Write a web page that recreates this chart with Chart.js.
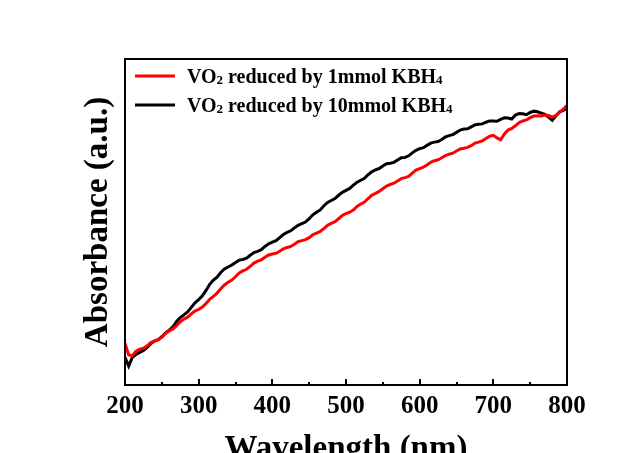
<!DOCTYPE html>
<html>
<head>
<meta charset="utf-8">
<script src="https://cdn.jsdelivr.net/npm/chart.js@4/dist/chart.umd.min.js"></script>
<style>
  body { margin: 0; background: #fff; }
</style>
</head>
<body>
<canvas id="absChart" width="643" height="453"></canvas>
<script>
// wavelength (nm), 5 nm steps, and absorbance (a.u.)
const wavelengths = [200, 205, 210, 215, 220, 225, 230, 235, 240, 245, 250, 255, 260, 265, 270, 275, 280, 285, 290, 295,
  300, 305, 310, 315, 320, 325, 330, 335, 340, 345, 350, 355, 360, 365, 370, 375, 380, 385, 390, 395,
  400, 405, 410, 415, 420, 425, 430, 435, 440, 445, 450, 455, 460, 465, 470, 475, 480, 485, 490, 495,
  500, 505, 510, 515, 520, 525, 530, 535, 540, 545, 550, 555, 560, 565, 570, 575, 580, 585, 590, 595,
  600, 605, 610, 615, 620, 625, 630, 635, 640, 645, 650, 655, 660, 665, 670, 675, 680, 685, 690, 695,
  700, 705, 710, 715, 720, 725, 730, 735, 740, 745, 750, 755, 760, 765, 770, 775, 780, 785, 790, 795, 800];

const abs1mmol = [0.128, 0.092, 0.090, 0.104, 0.110, 0.113, 0.120, 0.130, 0.135, 0.139, 0.146, 0.158, 0.166, 0.172, 0.182, 0.194, 0.202, 0.208, 0.218, 0.227,
  0.232, 0.239, 0.250, 0.263, 0.272, 0.282, 0.295, 0.307, 0.315, 0.322, 0.332, 0.344, 0.350, 0.355, 0.364, 0.374, 0.380, 0.384, 0.392, 0.399,
  0.402, 0.404, 0.410, 0.418, 0.422, 0.425, 0.432, 0.440, 0.443, 0.446, 0.452, 0.461, 0.466, 0.471, 0.480, 0.490, 0.496, 0.501, 0.510, 0.520,
  0.526, 0.530, 0.537, 0.548, 0.555, 0.561, 0.572, 0.582, 0.588, 0.594, 0.602, 0.610, 0.615, 0.619, 0.626, 0.633, 0.636, 0.640, 0.650, 0.659,
  0.664, 0.668, 0.675, 0.683, 0.688, 0.691, 0.697, 0.704, 0.708, 0.711, 0.718, 0.724, 0.726, 0.729, 0.734, 0.742, 0.745, 0.749, 0.756, 0.763,
  0.766, 0.758, 0.752, 0.770, 0.782, 0.787, 0.795, 0.805, 0.810, 0.813, 0.820, 0.825, 0.826, 0.825, 0.828, 0.827, 0.822, 0.826, 0.836, 0.846, 0.858];

const abs10mmol = [0.085, 0.058, 0.085, 0.094, 0.100, 0.106, 0.115, 0.127, 0.135, 0.139, 0.148, 0.160, 0.168, 0.178, 0.195, 0.207, 0.215, 0.224, 0.238, 0.252,
  0.262, 0.274, 0.290, 0.309, 0.322, 0.331, 0.345, 0.356, 0.362, 0.368, 0.376, 0.383, 0.385, 0.389, 0.398, 0.406, 0.410, 0.415, 0.425, 0.433,
  0.438, 0.443, 0.452, 0.462, 0.468, 0.473, 0.482, 0.490, 0.495, 0.500, 0.510, 0.522, 0.530, 0.537, 0.550, 0.560, 0.566, 0.572, 0.582, 0.591,
  0.597, 0.603, 0.613, 0.622, 0.628, 0.634, 0.645, 0.654, 0.660, 0.664, 0.672, 0.679, 0.680, 0.683, 0.690, 0.697, 0.698, 0.703, 0.712, 0.720,
  0.725, 0.728, 0.735, 0.742, 0.745, 0.747, 0.753, 0.761, 0.765, 0.768, 0.775, 0.782, 0.785, 0.786, 0.792, 0.798, 0.800, 0.801, 0.806, 0.810,
  0.810, 0.809, 0.815, 0.820, 0.819, 0.816, 0.828, 0.833, 0.832, 0.829, 0.836, 0.840, 0.838, 0.834, 0.830, 0.822, 0.812, 0.826, 0.838, 0.842, 0.850];

const seriesLabels = ['VO2 reduced by 1mmol KBH4', 'VO2 reduced by 10mmol KBH4'];
const seriesColors = ['rgb(255, 0, 0)', 'rgb(0, 0, 0)'];

const xTicks = [200, 300, 400, 500, 600, 700, 800];
const xMinorTicks = [250, 350, 450, 550, 650, 750];

const serif = '"Liberation Serif", "Times New Roman", serif';

function toPoints(xs, ys) {
  return xs.map((x, i) => ({x: x, y: ys[i]}));
}

// closed frame with inward ticks, like the Origin plot
const framePlugin = {
  id: 'frame',
  afterDatasetsDraw(chart) {
    const {ctx, chartArea: a} = chart;
    const xs = chart.scales.x;
    ctx.save();
    ctx.strokeStyle = '#000';
    ctx.lineWidth = 2;
    ctx.strokeRect(a.left, a.top, a.right - a.left, a.bottom - a.top);
    xTicks.forEach(v => {
      const px = Math.round(xs.getPixelForValue(v));
      ctx.beginPath();
      ctx.moveTo(px, a.bottom);
      ctx.lineTo(px, a.bottom - 6);
      ctx.stroke();
    });
    xMinorTicks.forEach(v => {
      const px = Math.round(xs.getPixelForValue(v));
      ctx.beginPath();
      ctx.moveTo(px, a.bottom);
      ctx.lineTo(px, a.bottom - 3);
      ctx.stroke();
    });
    ctx.restore();
  }
};

// legend drawn inside the plot, with subscripts for O2 and H4
const legendPlugin = {
  id: 'innerLegend',
  afterDraw(chart) {
    const {ctx, chartArea: a} = chart;
    ctx.save();
    chart.data.datasets.forEach((ds, i) => {
      const y = a.top + 17 + i * 29;
      ctx.strokeStyle = ds.borderColor;
      ctx.lineWidth = 3;
      ctx.beginPath();
      ctx.moveTo(a.left + 10, y);
      ctx.lineTo(a.left + 50, y);
      ctx.stroke();

      let x = a.left + 62;
      ctx.fillStyle = '#000';
      ctx.textBaseline = 'alphabetic';
      const parts = ds.label.split(/(?<=[A-Z])(\d)/);
      parts.forEach((p, k) => {
        if (!p) return;
        const sub = k % 2 === 1;
        ctx.font = 'bold ' + (sub ? 13 : 20) + 'px ' + serif;
        ctx.fillText(p, x, y + 7 + (sub ? 1 : 0));
        x += ctx.measureText(p).width;
      });
    });
    ctx.restore();
  }
};

const absChart = new Chart(document.getElementById('absChart'), {
  type: 'line',
  data: {
    datasets: [
      {
        label: seriesLabels[0],
        data: toPoints(wavelengths, abs1mmol),
        borderColor: seriesColors[0],
        backgroundColor: seriesColors[0],
        borderWidth: 3,
        pointRadius: 0,
        tension: 0
      },
      {
        label: seriesLabels[1],
        data: toPoints(wavelengths, abs10mmol),
        borderColor: seriesColors[1],
        backgroundColor: seriesColors[1],
        borderWidth: 3,
        pointRadius: 0,
        tension: 0
      }
    ]
  },
  options: {
    responsive: false,
    animation: false,
    layout: {
      padding: {left: 75, top: 59, right: 76, bottom: 0}
    },
    plugins: {
      legend: {display: false},
      tooltip: {enabled: false}
    },
    scales: {
      x: {
        type: 'linear',
        min: 200,
        max: 800,
        grid: {display: false, drawTicks: false},
        border: {display: false},
        afterBuildTicks: (scale) => {
          scale.ticks = xTicks.map(v => ({value: v}));
        },
        afterFit: (scale) => {
          scale.height = 68;
        },
        ticks: {
          color: '#000',
          padding: 7,
          maxRotation: 0,
          font: {family: serif, size: 25, weight: 'bold'}
        },
        title: {
          display: true,
          text: 'Wavelength (nm)',
          color: '#000',
          padding: {top: 0, bottom: -16},
          font: {family: serif, size: 33, weight: 'bold'}
        }
      },
      y: {
        min: 0,
        max: 1,
        grid: {display: false, drawTicks: false},
        border: {display: false},
        ticks: {display: false},
        afterFit: (scale) => {
          scale.width = 50;
        },
        title: {
          display: true,
          text: 'Absorbance (a.u.)',
          color: '#000',
          padding: {top: 4, bottom: 0},
          font: {family: serif, size: 33, weight: 'bold'}
        }
      }
    }
  },
  plugins: [framePlugin, legendPlugin]
});
</script>
</body>
</html>
